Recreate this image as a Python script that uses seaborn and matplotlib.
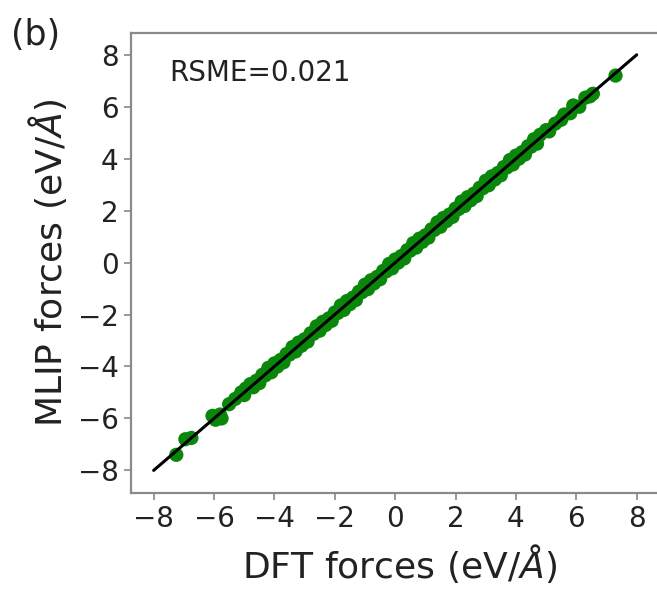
import matplotlib
matplotlib.use("Agg")
import matplotlib.pyplot as plt
import seaborn as sns
import pandas as pd

sns.set_theme(style="ticks")
plt.rcParams['font.family'] = ['DejaVu Sans']

# DFT vs MLIP forces (eV/Å)
dft_forces = [
    -7.25, -6.95, -6.75, -6.05, -5.95, -5.8, -5.75, -5.5, -5.3, -5.1, -5.0, -4.95,
    -4.8, -4.7, -4.6, -4.5, -4.4, -4.3, -4.2, -4.1, -4.0, -3.9,
    -3.8, -3.7, -3.6, -3.5, -3.4, -3.3, -3.2, -3.1, -3.0, -2.9,
    -2.8, -2.7, -2.6, -2.5, -2.4, -2.3, -2.2, -2.1, -2.0, -1.9,
    -1.8, -1.7, -1.6, -1.5, -1.4, -1.3, -1.2, -1.1, -1.0, -0.9,
    -0.8, -0.7, -0.6, -0.5, -0.4, -0.3, -0.2, -0.1, 0.0, 0.1,
    0.2, 0.3, 0.4, 0.5, 0.6, 0.7, 0.8, 0.9, 1.0, 1.1,
    1.2, 1.3, 1.4, 1.5, 1.6, 1.7, 1.8, 1.9, 2.0, 2.1,
    2.2, 2.3, 2.4, 2.5, 2.6, 2.7, 2.8, 2.9, 3.0, 3.1,
    3.2, 3.3, 3.4, 3.5, 3.6, 3.7, 3.8, 3.9, 4.0, 4.1,
    4.2, 4.3, 4.4, 4.5, 4.6, 4.7, 4.8,
    5.0, 5.1, 5.3, 5.5, 5.6, 5.8, 5.9, 6.1, 6.3, 6.45, 6.55, 7.3]
mlip_forces = [
    -7.4, -6.8, -6.75, -5.9, -6.05, -5.85, -6.0, -5.45, -5.25, -5.0, -5.1, -4.85,
    -4.68, -4.80, -4.55, -4.64, -4.32, -4.34, -4.05, -4.22, -3.88, -4.00,
    -3.75, -3.84, -3.52, -3.54, -3.25, -3.42, -3.08, -3.20, -2.95, -3.04,
    -2.72, -2.74, -2.45, -2.62, -2.28, -2.40, -2.15, -2.24, -1.92, -1.94,
    -1.65, -1.82, -1.48, -1.60, -1.35, -1.44, -1.12, -1.14, -0.85, -1.02,
    -0.68, -0.80, -0.55, -0.64, -0.32, -0.34, -0.05, -0.22, 0.12, 0.00,
    0.25, 0.16, 0.48, 0.46, 0.75, 0.58, 0.92, 0.80, 1.05, 0.96,
    1.28, 1.26, 1.55, 1.38, 1.72, 1.60, 1.85, 1.76, 2.08, 2.06,
    2.35, 2.18, 2.52, 2.40, 2.65, 2.56, 2.88, 2.86, 3.15, 2.98,
    3.32, 3.20, 3.45, 3.36, 3.68, 3.66, 3.95, 3.78, 4.12, 4.00,
    4.25, 4.16, 4.48, 4.46, 4.75, 4.58, 4.92,
    5.1, 5.05, 5.35, 5.5, 5.7, 5.75, 6.05, 6.0, 6.35, 6.4, 6.5, 7.2]
line_x = [-8, 8]
line_y = [-8, 8]
ticks = [-8, -6, -4, -2, 0, 2, 4, 6, 8]
tick_labels = ["\u22128", "\u22126", "\u22124", "\u22122", "0", "2", "4", "6", "8"]

df = pd.DataFrame({"DFT": dft_forces, "MLIP": mlip_forces})

fig = plt.figure(figsize=(6.57, 5.89), dpi=100)
ax = fig.add_axes([0.1994, 0.163, 0.817, 0.781])

sns.scatterplot(data=df, x="DFT", y="MLIP", ax=ax, color="#0a870a",
                s=105, edgecolor="none", alpha=1.0, zorder=2)
sns.lineplot(x=line_x, y=line_y, ax=ax, color="black", linewidth=2.2, zorder=3)

ax.set_xlim(-8.75, 9.03)
ax.set_ylim(-8.87, 8.84)
ax.set_xticks(ticks)
ax.set_yticks(ticks)
ax.set_xticklabels(tick_labels)
ax.set_yticklabels(tick_labels)
ax.tick_params(axis="both", labelsize=20, length=5, width=1.2, color="#888888",
               labelcolor="#222222", pad=4)
for sp in ax.spines.values():
    sp.set_color("#8a8a8a")
    sp.set_linewidth(1.6)
ax.spines["right"].set_visible(False)

ax.set_xlabel("DFT forces (eV/$\\AA$)", fontsize=26, color="#222222", labelpad=6)
ax.set_ylabel("MLIP forces (eV/$\\AA$)", fontsize=26, color="#222222", labelpad=6)

ax.text(0.072, 0.913, "RSME=0.021", transform=ax.transAxes, fontsize=20,
        color="#222222", va="center", ha="left")
fig.text(0.016, 0.94, "(b)", fontsize=25, color="#222222", va="center", ha="left")

fig.savefig("out.png", dpi=100)
